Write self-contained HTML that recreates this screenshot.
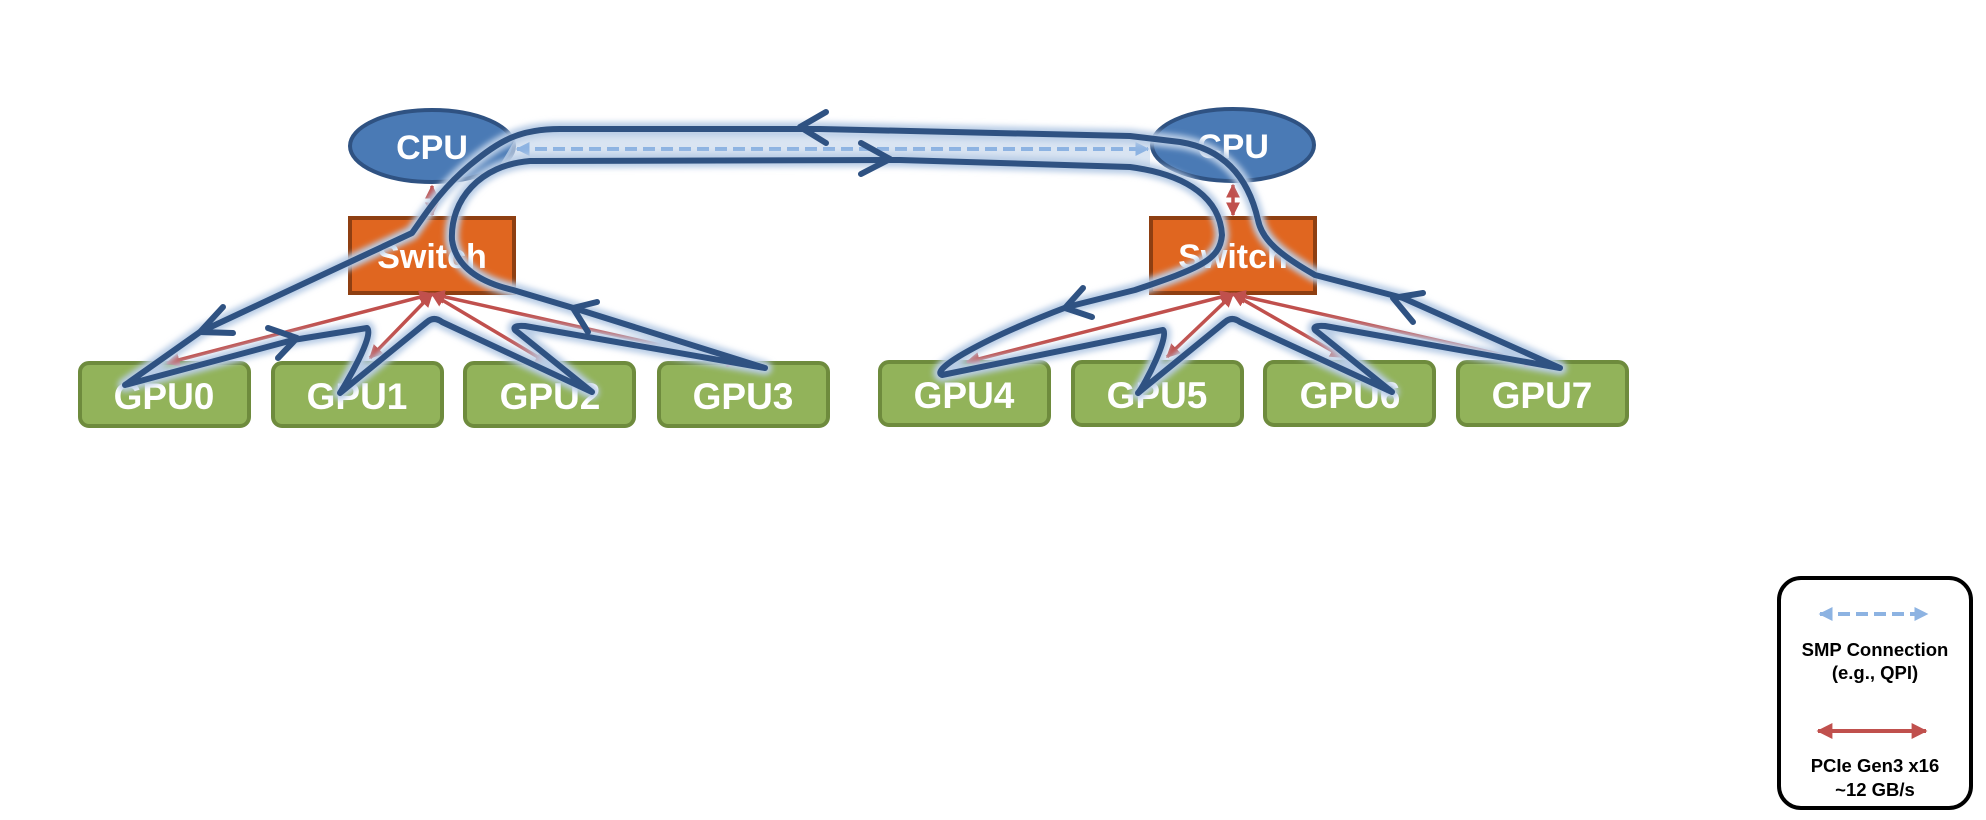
<!DOCTYPE html>
<html><head><meta charset="utf-8"><style>
html,body{margin:0;padding:0;background:#fff;}
svg{display:block;}
text{font-family:"Liberation Sans",sans-serif;font-weight:bold;}
</style></head><body>
<svg width="1986" height="820" viewBox="0 0 1986 820" xmlns="http://www.w3.org/2000/svg">
<defs>
<marker id="ra" viewBox="0 0 10 10" refX="9" refY="5" markerWidth="4" markerHeight="4" orient="auto-start-reverse" markerUnits="strokeWidth"><path d="M0 0 L10 5 L0 10 z" fill="#c0504d"/></marker>
<marker id="ba" viewBox="0 0 10 10" refX="9" refY="5" markerWidth="3.5" markerHeight="3.5" orient="auto-start-reverse" markerUnits="strokeWidth"><path d="M0 0 L10 5 L0 10 z" fill="#8db3e2"/></marker>
<filter id="glow" x="-10%" y="-10%" width="120%" height="120%"><feGaussianBlur stdDeviation="3"/></filter>
</defs>

<!-- CPUs -->
<ellipse cx="432" cy="146" rx="82" ry="36" fill="#4a7ab5" stroke="#2f5282" stroke-width="4"/>
<text x="432" y="159" font-size="34" fill="#fff" text-anchor="middle">CPU</text>
<ellipse cx="1233" cy="145" rx="81" ry="36" fill="#4a7ab5" stroke="#2f5282" stroke-width="4"/>
<text x="1233" y="158" font-size="34" fill="#fff" text-anchor="middle">CPU</text>

<!-- Switches -->
<rect x="350" y="218" width="164" height="75" fill="#e06620" stroke="#8e3f12" stroke-width="4"/>
<text x="432" y="268" font-size="34" fill="#fff" text-anchor="middle">Switch</text>
<rect x="1151" y="218" width="164" height="75" fill="#e06620" stroke="#8e3f12" stroke-width="4"/>
<text x="1233" y="268" font-size="34" fill="#fff" text-anchor="middle">Switch</text>

<!-- GPUs -->
<g fill="#92b35a" stroke="#6e8b3d" stroke-width="4">
<rect x="80" y="363" width="169" height="63" rx="9"/>
<rect x="273" y="363" width="169" height="63" rx="9"/>
<rect x="465" y="363" width="169" height="63" rx="9"/>
<rect x="659" y="363" width="169" height="63" rx="9"/>
<rect x="880" y="362" width="169" height="63" rx="9"/>
<rect x="1073" y="362" width="169" height="63" rx="9"/>
<rect x="1265" y="362" width="169" height="63" rx="9"/>
<rect x="1458" y="362" width="169" height="63" rx="9"/>
</g>
<g font-size="37" fill="#fff" text-anchor="middle">
<text x="164" y="409">GPU0</text>
<text x="357" y="409">GPU1</text>
<text x="550" y="409">GPU2</text>
<text x="743" y="409">GPU3</text>
<text x="964" y="408">GPU4</text>
<text x="1157" y="408">GPU5</text>
<text x="1350" y="408">GPU6</text>
<text x="1542" y="408">GPU7</text>
</g>

<!-- red PCIe arrows -->
<g stroke="#c0504d" stroke-width="3.5" marker-start="url(#ra)" marker-end="url(#ra)">
<line x1="432" y1="186" x2="432" y2="215"/>
<line x1="432" y1="294" x2="167" y2="363"/>
<line x1="432" y1="294" x2="370" y2="358"/>
<line x1="432" y1="294" x2="548" y2="363"/>
<line x1="432" y1="294" x2="740" y2="363"/>
<line x1="1233" y1="185" x2="1233" y2="215"/>
<line x1="1233" y1="294" x2="967" y2="362"/>
<line x1="1233" y1="294" x2="1167" y2="357"/>
<line x1="1233" y1="294" x2="1343" y2="357"/>
<line x1="1233" y1="294" x2="1538" y2="363"/>
</g>

<!-- band between lines -->
<path d="M520 131 L1150 137 L1150 166 L530 161 L500 165 Z" fill="#c9d8ec" opacity="0.7"/>

<!-- SMP dashed -->
<line x1="517" y1="149" x2="1148" y2="149" stroke="#8db3e2" stroke-width="4" stroke-dasharray="12 6" marker-start="url(#ba)" marker-end="url(#ba)"/>

<!-- dark blue route -->
<g fill="none" stroke-linejoin="round" stroke-linecap="round">
<path d="M560 129 C520 129 500 140 470 165 C440 190 425 215 412 233 L200 332 L125 385 L293 340 L367 328 C375 335 345 385 340 393 L427 322 Q434 316 442 322 L592 392 L515 330 Q512 325 525 326 L765 368 L580 310 L513 290 C470 280 455 260 452 240 C450 200 480 165 530 161 L900 160 L1130 167 C1190 175 1220 200 1222 235 C1220 260 1200 268 1135 290 L1067 307 C980 340 930 370 942 375 L1163 330 C1170 335 1145 385 1138 393 L1225 322 Q1232 316 1240 322 L1392 392 L1315 330 Q1312 325 1325 326 L1560 368 L1403 298 L1315 275 C1280 255 1262 240 1258 220 C1250 185 1230 150 1180 142 L1130 136 L820 129 Z" stroke="#b9cde6" stroke-width="14" filter="url(#glow)"/>
<path d="M560 129 C520 129 500 140 470 165 C440 190 425 215 412 233 L200 332 L125 385 L293 340 L367 328 C375 335 345 385 340 393 L427 322 Q434 316 442 322 L592 392 L515 330 Q512 325 525 326 L765 368 L580 310 L513 290 C470 280 455 260 452 240 C450 200 480 165 530 161 L900 160 L1130 167 C1190 175 1220 200 1222 235 C1220 260 1200 268 1135 290 L1067 307 C980 340 930 370 942 375 L1163 330 C1170 335 1145 385 1138 393 L1225 322 Q1232 316 1240 322 L1392 392 L1315 330 Q1312 325 1325 326 L1560 368 L1403 298 L1315 275 C1280 255 1262 240 1258 220 C1250 185 1230 150 1180 142 L1130 136 L820 129 Z" stroke="#2f5282" stroke-width="6"/>
<g stroke="#2f5282" stroke-width="6">
<path d="M223 307 L200 332 L233 333"/>
<path d="M268 328 L297 338 L278 358"/>
<path d="M597 302 L573 308 L588 332"/>
<path d="M1083 288 L1065 308 L1092 317"/>
<path d="M1423 293 L1393 298 L1413 322"/>
<path d="M826 112 L800 127 L826 143"/>
<path d="M861 143 L890 159 L861 174"/>
</g>
</g>

<!-- legend -->
<rect x="1779" y="578" width="192" height="230" rx="22" fill="#fff" stroke="#000" stroke-width="4"/>
<line x1="1820" y1="614" x2="1927" y2="614" stroke="#8db3e2" stroke-width="4" stroke-dasharray="12 6" marker-start="url(#ba)" marker-end="url(#ba)"/>
<g font-size="18.5" fill="#000" text-anchor="middle">
<text x="1875" y="656">SMP Connection</text>
<text x="1875" y="679">(e.g., QPI)</text>
<text x="1875" y="772">PCIe Gen3 x16</text>
<text x="1875" y="796">~12 GB/s</text>
</g>
<line x1="1818" y1="731" x2="1926" y2="731" stroke="#c0504d" stroke-width="4" marker-start="url(#ra)" marker-end="url(#ra)"/>
</svg>
</body></html>
